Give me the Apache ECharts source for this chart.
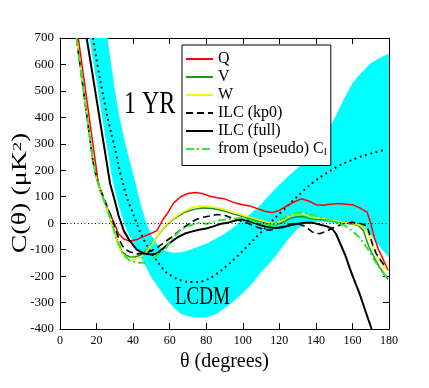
<!DOCTYPE html>
<html>
<head>
    <meta charset="utf-8">
</head>
<body style="margin: 0">
<div id="container" style="width: 429px; height: 388px;"></div>
<script type="text/javascript" src="https://cdn.jsdelivr.net/npm/echarts@6/dist/echarts.min.js"></script>
<script type="text/javascript">
    // LCDM band (lower / upper edge) and its mean
    var bandTheta = [14, 16, 18, 20, 22, 24, 26, 28, 30, 32, 35, 38, 41, 44, 47, 50, 54, 58, 62, 66, 70, 75, 80, 85, 90, 95, 100, 105, 110, 115, 120, 125, 130, 135, 140, 145, 150, 155, 160, 165, 170, 175, 180];
    var bandLow = [800, 705, 618, 533, 447, 360, 275, 190, 125, 70, 0, -48, -85, -125, -165, -205, -245, -285, -318, -342, -352, -357, -356, -345, -322, -295, -265, -230, -185, -150, -105, -60, -20, 0, 5, 5, 0, -3, -5, -15, -45, -90, -130];
    var bandHigh = [1300, 1200, 1100, 1000, 900, 800, 700, 600, 505, 420, 320, 240, 160, 75, 5, -45, -88, -105, -112, -110, -104, -90, -78, -60, -40, -15, 10, 40, 72, 110, 145, 178, 210, 240, 275, 330, 395, 465, 530, 570, 605, 625, 640];

    var thetaMean = [18, 20, 22, 24, 26, 28, 30, 32, 34, 37, 40, 44, 48, 53, 58, 64, 70, 76, 82, 88, 94, 100, 106, 112, 118, 124, 130, 136, 142, 148, 154, 160, 166, 172, 178];
    var valMean = [700, 620, 540, 470, 400, 340, 285, 220, 160, 90, 35, -35, -90, -142, -185, -210, -222, -222, -208, -180, -145, -105, -62, -20, 22, 62, 102, 140, 172, 199, 222, 240, 255, 267, 278];

    var thetaQ = [10, 14, 18, 21, 23, 25, 28, 30, 32, 35, 38, 42, 46, 50, 53, 56.5, 59, 62, 66, 70, 74, 78, 82, 86, 90, 96, 100, 104, 108, 112, 116, 120, 124, 128, 132, 136, 140, 144, 148, 152, 156, 160, 164, 168, 170, 172, 174, 177, 179.5];
    var valQ = [700, 500, 300, 150, 105, 70, 25, -5, -40, -60, -68, -62, -50, -38, -28, 15, 40, 75, 100, 112, 116, 112, 102, 96, 92, 76, 70, 65, 55, 45, 40, 48, 65, 80, 92, 84, 70, 68, 72, 74, 72, 70, 58, 42, 0, -55, -95, -140, -178];

    var thetaV = [9, 12, 15, 18, 20, 22, 24, 26, 28, 30, 32, 34, 36, 38, 41, 44, 47, 49, 51, 54, 56.5, 59, 62, 65, 68, 72, 75, 78, 82, 86, 90, 95, 100, 105, 110, 115, 118, 122, 126, 129.6, 133, 137, 141, 146, 150, 155, 159, 163, 166, 168, 170, 172, 175, 179.5];
    var valV = [700, 545, 390, 235, 170, 125, 88, 48, 5, -40, -80, -108, -120, -127, -128, -120, -105, -90, -72, -42, -22, -3, 14, 28, 40, 50, 55, 57, 56, 53, 46, 35, 25, 15, 5, -3, -6, 3, 18, 24, 25, 17, 14, 12, 7, 2, -2, -8, -28, -70, -104, -130, -168, -212];

    var thetaW = [9, 12, 15, 18, 20, 22, 24, 26, 28, 30, 32, 34, 36, 38, 41, 44, 47, 49, 51, 54, 56.5, 59, 62, 65, 68, 72, 75, 78, 82, 86, 90, 95, 100, 105, 110, 115, 118, 122, 126, 129.6, 133, 137, 141, 146, 150, 155, 159, 163, 166, 168, 171, 173, 175, 179.5];
    var valW = [700, 545, 390, 235, 170, 125, 90, 50, 5, -45, -85, -115, -132, -140, -138, -128, -110, -92, -74, -40, -20, 0, 17, 32, 45, 58, 63, 65, 63, 58, 52, 40, 30, 20, 10, 2, -2, 12, 28, 36, 36, 22, 20, 16, 10, 3, 0, -5, -15, -30, -85, -115, -142, -185];

    var thetaKp0 = [9, 12, 15, 18, 20, 22, 24, 26, 28, 30, 32, 34, 36, 38, 42, 46, 50, 54, 58, 62, 66, 70, 74, 78, 82, 86, 90, 94, 98, 102, 106, 110, 114, 118, 122, 126, 130, 134, 138, 142, 146, 150, 155, 160, 164, 168, 171, 173, 175, 178];
    var valKp0 = [700, 545, 390, 235, 175, 130, 95, 60, 25, -15, -55, -85, -100, -108, -116, -114, -105, -88, -68, -48, -25, -5, 12, 22, 27, 33, 30, 20, 10, 2, -10, -20, -27, -22, -12, -3, -2, -12, -33, -40, -30, -15, -2, 3, 0, -10, -80, -115, -135, -165];

    var thetaFull = [14.6, 17, 20, 23, 25.5, 27.4, 30, 32, 35, 38, 42, 46, 50, 53, 56, 60, 64, 68, 72, 76, 80, 84, 88, 92, 96, 99, 102, 106, 110, 114, 118, 122, 126, 130, 134, 138, 142, 146, 149, 151, 153, 156, 158.6, 161, 164, 167, 170.5];
    var valFull = [700, 597, 468, 339, 232, 150, 85, 30, -30, -65, -100, -115, -118, -115, -98, -75, -55, -40, -32, -25, -20, -12, -2, 2, 10, 15, 10, 2, -8, -15, -18, -15, -8, -2, 2, 2, -5, -12, -22, -40, -72, -120, -172, -215, -268, -330, -400];

    var thetaPseudo = [9, 12, 15, 18, 20, 22, 24, 26, 28, 30, 32, 34, 36, 38, 42, 46, 50, 54, 58, 60, 62, 66, 70, 74, 77, 80, 84, 88, 92, 96, 99, 104, 108, 112, 115, 120, 124, 128, 132, 136, 140, 144, 148, 152, 156, 160, 164, 168, 172, 176, 179.5];
    var valPseudo = [700, 545, 390, 235, 172, 125, 88, 50, 8, -38, -75, -110, -128, -140, -150, -150, -140, -115, -95, -70, -55, -25, -12, 0, 3, -3, 5, 12, 15, 18, 20, 12, 2, -5, -8, 10, 25, 37, 40, 36, 28, 18, 10, 2, -10, -30, -55, -93, -140, -180, -215];

    var xTicks = [0, 20, 40, 60, 80, 100, 120, 140, 160, 180];
    var yTicks = [-400, -300, -200, -100, 0, 100, 200, 300, 400, 500, 600, 700];

    var serif = "'Liberation Serif', 'Times New Roman', serif";

    function pairs(xs, ys) {
        return xs.map(function (x, i) { return [x, ys[i]]; });
    }

    var dom = document.getElementById('container');
    var myChart = echarts.init(dom);

    function lineSeries(name, xs, ys, color, width, type) {
        return {
            name: name,
            type: 'line',
            data: pairs(xs, ys),
            showSymbol: false,
            symbol: 'none',
            lineStyle: { color: color, width: width, type: type || 'solid' },
            itemStyle: { color: color, opacity: 0 }   // no marker in the legend
        };
    }

    var axisLine = { show: true, onZero: false, lineStyle: { color: '#000', width: 1 } };
    var axisTick = { show: true, inside: true, length: 6, lineStyle: { color: '#000' } };

    var option = {
        animation: false,
        textStyle: { fontFamily: serif },
        grid: { left: 60, top: 38, width: 329, height: 291 },
        xAxis: [{
            type: 'value', min: xTicks[0], max: xTicks[xTicks.length - 1], interval: 20,
            position: 'bottom',
            axisLine: axisLine, axisTick: axisTick,
            axisLabel: { color: '#000', fontSize: 12, margin: 6, fontFamily: serif },
            splitLine: { show: false },
            name: 'θ (degrees)', nameLocation: 'middle', nameGap: 22,
            nameTextStyle: { color: '#000', fontSize: 20, fontFamily: serif }
        }, {
            type: 'value', min: xTicks[0], max: xTicks[xTicks.length - 1], interval: 20,
            position: 'top',
            axisLine: axisLine, axisTick: axisTick,
            axisLabel: { show: false }, splitLine: { show: false }
        }],
        yAxis: [{
            type: 'value', min: yTicks[0], max: yTicks[yTicks.length - 1], interval: 100,
            position: 'left',
            axisLine: axisLine, axisTick: axisTick,
            axisLabel: { color: '#000', fontSize: 13, margin: 6, fontFamily: serif },
            splitLine: { show: false }
        }, {
            type: 'value', min: yTicks[0], max: yTicks[yTicks.length - 1], interval: 100,
            position: 'right',
            axisLine: axisLine, axisTick: axisTick,
            axisLabel: { show: false }, splitLine: { show: false }
        }],
        legend: {
            data: ['Q', 'V', 'W', 'ILC (kp0)', 'ILC (full)', 'from (pseudo) Cl'],
            orient: 'vertical',
            left: 182, top: 45,
            itemWidth: 27, itemHeight: 14, itemGap: 2,
            padding: [6, 4, 8, 3],
            borderColor: '#000', borderWidth: 1, borderRadius: 0,
            backgroundColor: '#fff',
            textStyle: {
                color: '#000', fontSize: 16, fontFamily: serif,
                rich: { sub: { fontSize: 11, fontFamily: serif, color: '#000', verticalAlign: 'bottom', padding: [6, 0, 0, 0] } }
            },
            formatter: function (name) {
                return name === 'from (pseudo) Cl' ? 'from (pseudo) C{sub|l}' : name;
            }
        },
        graphic: [{
            type: 'text', x: 21, y: 193, rotation: Math.PI / 2, scaleX: 1.4, z: 100,
            style: {
                text: 'C(θ) (μK{sup|2})', fontSize: 20, fontFamily: serif, fill: '#000',
                align: 'center', verticalAlign: 'middle',
                rich: { sup: { fontSize: 13, fontFamily: serif, fill: '#000', verticalAlign: 'top' } }
            }
        }, {
            type: 'text', left: 124, top: 89, scaleY: 1.3, z: 100,
            style: { text: '1 YR', fontSize: 24, fontFamily: serif, fill: '#000' }
        }, {
            type: 'text', left: 175, top: 285, scaleY: 1.3, z: 100,
            style: { text: 'LCDM', fontSize: 19, fontFamily: serif, fill: '#000' }
        }],
        series: [{
            name: 'band',
            type: 'custom',
            data: [[0, 0]],
            silent: true,
            z: 1,
            renderItem: function (params, api) {
                var pts = [];
                for (var i = 0; i < bandTheta.length; i++) {
                    pts.push(api.coord([bandTheta[i], bandHigh[i]]));
                }
                for (var j = bandTheta.length - 1; j >= 0; j--) {
                    pts.push(api.coord([bandTheta[j], bandLow[j]]));
                }
                var cs = params.coordSys;
                return {
                    type: 'polygon',
                    shape: { points: pts },
                    style: { fill: '#00ffff' },
                    clipPath: { type: 'rect', shape: { x: cs.x, y: cs.y, width: cs.width, height: cs.height } }
                };
            }
        }, {
            name: 'LCDM',
            type: 'line',
            data: pairs(thetaMean, valMean),
            smooth: 0.3,
            showSymbol: false, symbol: 'none',
            lineStyle: { color: '#000', width: 2, type: [1.8, 3.7], cap: 'butt' },
            markLine: {
                silent: true, symbol: 'none', label: { show: false },
                lineStyle: { color: '#000', width: 1, type: [1, 2.5] },
                data: [{ yAxis: 0 }]
            }
        },
            lineSeries('Q', thetaQ, valQ, '#ff0000', 1.5),
            lineSeries('V', thetaV, valV, '#1e961e', 1.5),
            lineSeries('W', thetaW, valW, '#f5f500', 1.5),
            lineSeries('ILC (kp0)', thetaKp0, valKp0, '#000', 1.6, [7, 4]),
            lineSeries('ILC (full)', thetaFull, valFull, '#000', 2),
            lineSeries('from (pseudo) Cl', thetaPseudo, valPseudo, '#33e633', 2, [8, 3, 2, 3])
        ]
    };

    myChart.setOption(option);
</script>
</body>
</html>
